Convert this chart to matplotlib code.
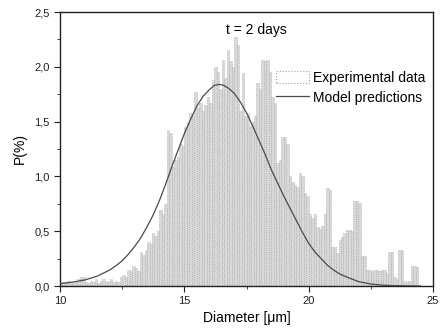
import numpy as np
import matplotlib
matplotlib.use("Agg")
import matplotlib.pyplot as plt
from matplotlib.ticker import MultipleLocator, FuncFormatter
from matplotlib.patches import Patch
from matplotlib.lines import Line2D

plt.rcParams['font.family'] = ['Liberation Sans', 'DejaVu Sans']

# Histogram: left edges of bins (µm), width 0.1
bin_start = 10.0
bin_width = 0.1
heights = [
    0.03, 0.04, 0.03, 0.05, 0.04, 0.03, 0.05, 0.06, 0.08, 0.08,
    0.04, 0.03, 0.05, 0.04, 0.06, 0.03, 0.05, 0.06, 0.04, 0.05,
    0.06, 0.04, 0.05, 0.04, 0.08, 0.10, 0.08, 0.15, 0.14, 0.18,
    0.16, 0.14, 0.31, 0.28, 0.33, 0.40, 0.38, 0.48, 0.46, 0.50,
    0.69, 0.66, 0.75, 1.42, 1.40, 1.09, 1.15, 1.18, 1.30, 1.28,
    1.45, 1.50, 1.58, 1.55, 1.77, 1.62, 1.67, 1.60, 1.65, 1.72,
    1.67, 1.88, 2.00, 1.95, 1.80, 2.06, 1.90, 2.15, 2.05, 2.00,
    2.27, 2.20, 1.60, 1.94, 1.55, 1.58, 1.45, 1.50, 1.55, 1.85,
    1.80, 2.06, 2.05, 2.06, 1.95, 1.72, 1.67, 1.12, 1.15, 1.36,
    1.36, 1.30, 1.00, 0.95, 0.92, 0.90, 1.03, 1.00, 0.85, 0.82,
    0.66, 0.62, 0.66, 0.54, 0.52, 0.55, 0.66, 0.89, 0.88, 0.36,
    0.36, 0.30, 0.42, 0.45, 0.48, 0.51, 0.51, 0.50, 0.78, 0.78,
    0.76, 0.27, 0.27, 0.15, 0.15, 0.14, 0.15, 0.15, 0.14, 0.15,
    0.15, 0.12, 0.31, 0.31, 0.08, 0.06, 0.33, 0.33, 0.05, 0.04,
    0.05, 0.18, 0.18, 0.17,
]

# Model curve points
model_x = [10.0, 10.5, 11.0, 11.5, 12.0, 12.25, 12.5, 12.75, 13.0, 13.25, 13.5,
           13.75, 14.0, 14.25, 14.5, 14.75, 15.0, 15.25, 15.5, 15.75, 16.0,
           16.2, 16.4, 16.6, 16.8, 17.0, 17.25, 17.5, 17.75, 18.0, 18.25, 18.5,
           18.75, 19.0, 19.25, 19.5, 19.75, 20.0, 20.25, 20.5, 20.75, 21.0,
           21.25, 21.5, 22.0, 22.5, 23.0, 23.5, 24.0, 24.5]
model_y = [0.022, 0.035, 0.055, 0.09, 0.146, 0.185, 0.23, 0.29, 0.36, 0.44, 0.54,
           0.65, 0.78, 0.93, 1.09, 1.24, 1.39, 1.52, 1.64, 1.73, 1.79,
           1.83, 1.84, 1.83, 1.80, 1.76, 1.68, 1.58, 1.46, 1.33, 1.20, 1.06,
           0.94, 0.82, 0.71, 0.60, 0.49, 0.39, 0.31, 0.25, 0.19, 0.146,
           0.11, 0.085, 0.04, 0.018, 0.007, 0.003, 0.001, 0.0]

x_label = "Diameter [μm]"
y_label = "P(%)"
title_text = "t = 2 days"

fig = plt.figure(figsize=(4.4, 3.34), dpi=100)
ax = fig.add_axes([60/440, 48/334, 373/440, 274/334])

lefts = bin_start + bin_width * np.arange(len(heights))
ax.bar(lefts, heights, width=bin_width, align='edge', facecolor='#d8d8d8',
       edgecolor='#9c9c9c', linewidth=0.5, linestyle=':', zorder=1)

ax.plot(model_x, model_y, color='#4a4a4a', linewidth=0.9, zorder=3,
        solid_joinstyle='round')

ax.set_xlim(10, 25)
ax.set_ylim(0, 2.5)
ax.xaxis.set_major_locator(MultipleLocator(5))
ax.xaxis.set_minor_locator(MultipleLocator(2.5))
ax.yaxis.set_major_locator(MultipleLocator(0.5))
ax.yaxis.set_minor_locator(MultipleLocator(0.25))
ax.yaxis.set_major_formatter(FuncFormatter(lambda v, p: f"{v:.1f}".replace('.', ',')))
ax.tick_params(which='both', direction='out', labelsize=8, colors='#202020')
ax.tick_params(which='major', length=4)
ax.tick_params(which='minor', length=2.5)
for s in ax.spines.values():
    s.set_linewidth(1.0)
    s.set_color('#202020')

ax.set_xlabel(x_label, fontsize=10, labelpad=3)
ax.set_ylabel(y_label, fontsize=10, labelpad=5)

ax.text(17.9, 2.34, title_text, fontsize=10, ha='center', va='center')

handles = [Patch(facecolor='white', edgecolor='#a0a0a0', linestyle=':', linewidth=0.8),
           Line2D([0], [0], color='#4a4a4a', linewidth=0.9)]
ax.legend(handles, ["Experimental data", "Model predictions"], loc='upper left',
          bbox_to_anchor=(0.56, 0.81), frameon=False, fontsize=10,
          handlelength=2.4, handleheight=1.0, handletextpad=0.3, labelspacing=0.4,
          borderpad=0.0)

fig.savefig("out.png", dpi=100)
